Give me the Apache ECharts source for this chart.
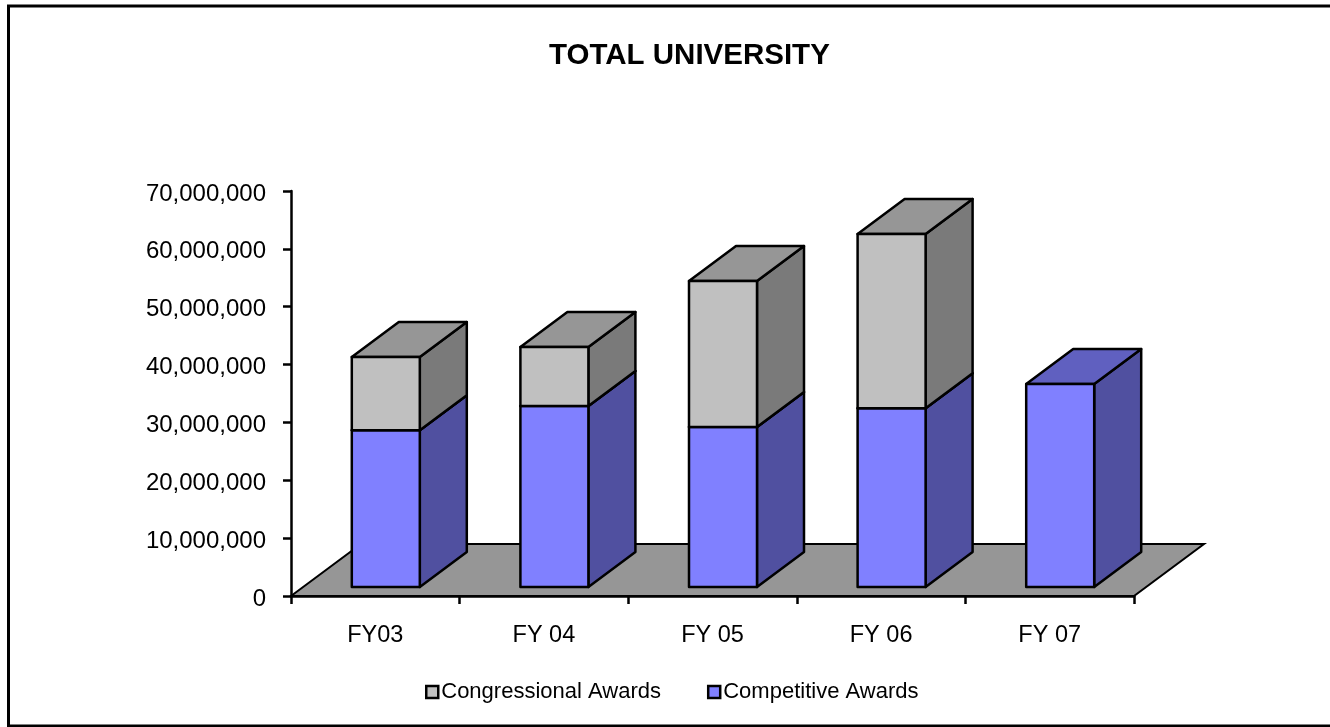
<!DOCTYPE html>
<html><head><meta charset="utf-8">
<style>html,body{margin:0;padding:0;background:#fff}#c{width:1330px;height:727px}</style>
<script src="https://cdn.jsdelivr.net/npm/echarts@6/dist/echarts.min.js"></script>
</head><body><div id="c"></div>
<script>
const categories = ['FY03','FY 04','FY 05','FY 06','FY 07'];
const competitive = [27100000,31300000,27650000,30900000,35100000];
const congressional = [12650000,10200000,25250000,30100000,0];
const yMax = 70000000, yStep = 10000000;
const FONT = '"Liberation Sans", Arial, sans-serif';
const depth = [47,-35], floorDepth = [70,-52], shiftX = 10.5, shiftY = -9, barW = 68;

const chart = echarts.init(document.getElementById('c'), null, {renderer:'canvas'});
function box(api, cat, from, to, front, side, top){
  const a = api.coord([cat, from]), b = api.coord([cat, to]);
  const x0 = a[0]+shiftX-barW/2, x1 = x0+barW, y0 = a[1]+shiftY, y1 = b[1]+shiftY;
  const [dx,dy] = depth;
  const s = {stroke:'#000', lineWidth:2.5, lineJoin:'round'};
  return [
    {type:'polygon', shape:{points:[[x1,y0],[x1+dx,y0+dy],[x1+dx,y1+dy],[x1,y1]]}, style:{fill:side,...s}},
    {type:'polygon', shape:{points:[[x0,y1],[x1,y1],[x1+dx,y1+dy],[x0+dx,y1+dy]]}, style:{fill:top,...s}},
    {type:'rect', shape:{x:x0,y:y1,width:barW,height:y0-y1}, style:{fill:front,...s}}
  ];
}
const seriesBox = (name, color, side, top, lo, hi) => ({
  name, type:'custom', coordinateSystem:'cartesian2d', z:3, clip:false,
  itemStyle:{color, borderColor:'#000', borderWidth:2.5},
  encode:{x:0,y:2},
  data: categories.map((c,i)=>[i, lo[i], hi[i]]),
  renderItem(params, api){
    const from = api.value(1), to = api.value(2);
    if (to <= from) return {type:'group', children:[]};
    return {type:'group', children: box(api, api.value(0), from, to, color, side, top)};
  }
});
const zeros = categories.map(()=>0);
const totals = competitive.map((v,i)=>v+congressional[i]);
chart.setOption({
  animation:false,
  backgroundColor:'#fff',
  title:{text:'TOTAL UNIVERSITY', left:544, top:36,
    textStyle:{fontFamily:FONT, fontWeight:'bold', fontSize:29.5, color:'#000'}},
  legend:{
    data:['Congressional Awards','Competitive Awards'], left:425, top:681,
    icon:'rect', itemWidth:12, itemHeight:12, itemGap:46, selectedMode:false,
    itemStyle:{borderColor:'#000', borderWidth:2.5},
    textStyle:{fontFamily:FONT, fontSize:22, color:'#000', padding:[0,0,0,-2]},
    padding:0
  },
  grid:{left:291, top:191, width:843, height:405, containLabel:false},
  xAxis:{type:'category', data:categories, boundaryGap:true,
    axisLine:{lineStyle:{color:'#000',width:2.5}},
    axisTick:{show:true, alignWithLabel:false, length:8, lineStyle:{color:'#000',width:2.5}},
    axisLabel:{fontFamily:FONT, fontSize:23.5, color:'#000', margin:28}, splitLine:{show:false}},
  yAxis:{type:'value', min:0, max:yMax, interval:yStep,
    axisLine:{show:true, lineStyle:{color:'#000',width:2.5}},
    axisTick:{show:true, length:8, lineStyle:{color:'#000',width:2.5}},
    axisLabel:{fontFamily:FONT, fontSize:24, color:'#000', margin:25, verticalAlign:'top', lineHeight:6,
      formatter:v=>v.toLocaleString('en-US')}, splitLine:{show:false}},
  series:[
    {type:'custom', name:'floor', coordinateSystem:'cartesian2d', z:1, clip:false, silent:true,
      data:[[0,0]], encode:{x:0,y:1},
      renderItem(params, api){
        const g = params.coordSys, [dx,dy] = floorDepth;
        const y = g.y+g.height, x0 = g.x, x1 = g.x+g.width;
        return {type:'polygon', shape:{points:[[x0,y],[x0+dx,y+dy],[x1+dx,y+dy],[x1,y]]},
          style:{fill:'#969696', stroke:'#000', lineWidth:2}};
      }},
    seriesBox('Competitive Awards','#8080ff','#5050a0','#6060c0', zeros, competitive),
    seriesBox('Congressional Awards','#c0c0c0','#7a7a7a','#969696', competitive, totals)
  ],
  graphic:[{type:'rect', silent:true, z:100,
    shape:{x:8.5,y:6,width:1330,height:720},
    style:{fill:'none', stroke:'#000', lineWidth:3}}]
});
</script></body></html>
